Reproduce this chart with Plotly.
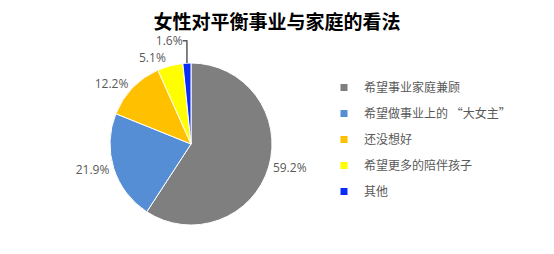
import plotly.graph_objects as go

title = "女性对平衡事业与家庭的看法"
categories = ["希望事业家庭兼顾", "希望做事业上的 “大女主”", "还没想好", "希望更多的陪伴孩子", "其他"]
values = [59.2, 21.9, 12.2, 5.1, 1.6]
colors = ["#7F7F7F", "#558ED5", "#FFC000", "#FFFF00", "#0A2EF5"]

W, H = 554, 254
cx, cy, r = 191, 144, 81

fig = go.Figure()
fig.add_trace(go.Pie(
    labels=categories, values=values, sort=False, direction="clockwise", rotation=0,
    marker=dict(colors=colors, line=dict(color="white", width=1)),
    texttemplate="%{value:.1f}%", textposition="outside",
    textfont=dict(size=12, color="#595959", family="Open Sans"),
    showlegend=False, hoverinfo="label+value",
    domain=dict(x=[(cx - r) / W, (cx + r) / W], y=[1 - (cy + r) / H, 1 - (cy - r) / H]),
))
for i, (c, col) in enumerate(zip(categories, colors)):
    fig.add_trace(go.Scatter(
        x=[None], y=[None], mode="markers", name=c, legendgroup=f"g{i}",
        marker=dict(symbol="square", size=7, color=col),
        showlegend=True,
    ))

fig.update_layout(
    width=W, height=H, margin=dict(l=0, r=0, t=0, b=0),
    paper_bgcolor="white", plot_bgcolor="white",
    title=dict(text=f"<b>{title}</b>", x=0.5, xanchor="center", y=1 - 22 / H, yanchor="middle",
               font=dict(size=19, color="#000000", family="Noto Sans CJK SC")),
    xaxis=dict(visible=False), yaxis=dict(visible=False),
    legend=dict(x=(324) / W, y=1 - 73 / H, xanchor="left", yanchor="top",
                font=dict(size=12, color="#595959", family="Noto Sans CJK SC"),
                tracegroupgap=7, itemwidth=30, bgcolor="rgba(0,0,0,0)"),
    font=dict(family="Noto Sans CJK SC"),
)
fig.write_html("out.html")
